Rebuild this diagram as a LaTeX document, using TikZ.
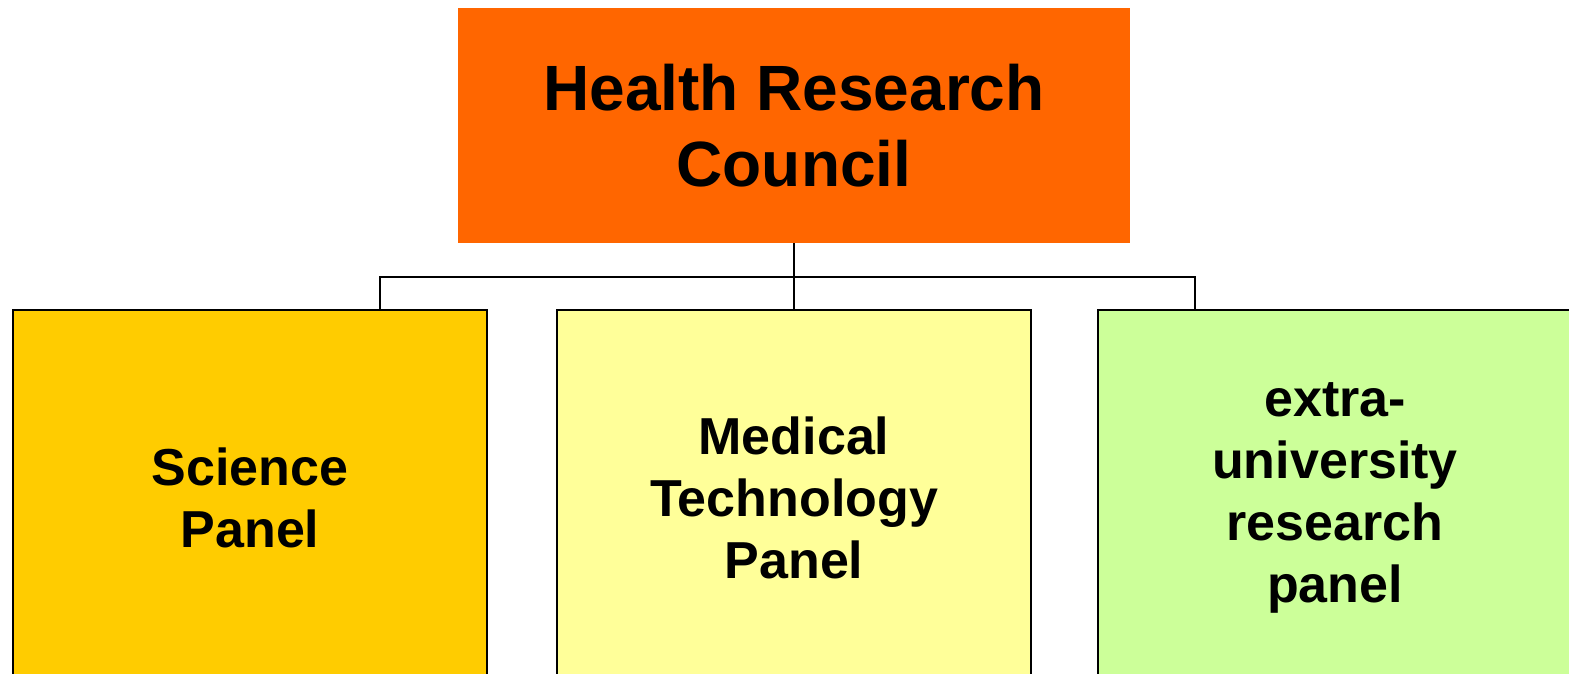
\documentclass[tikz,border=0pt]{standalone}
\usepackage{fontspec}
\setmainfont{Liberation Sans}
\usetikzlibrary{shapes, arrows, positioning}

\definecolor{councilorange}{HTML}{FF6600}
\definecolor{scienceyellow}{HTML}{FFCC00}
\definecolor{medicalyellow}{HTML}{FFFF99}
\definecolor{extragreen}{HTML}{CCFF99}

\begin{document}
\begin{tikzpicture}[node distance=34pt, outer sep=0pt,
    panel/.style={draw, line width=1pt, rectangle, align=center, minimum width=237pt, minimum height=187.5pt, font=\fontsize{26}{31}\selectfont\bfseries}]
        \useasboundingbox (0,0) rectangle (784.5pt,-337pt);

        % Draw the blocks
        \node (council) [rectangle, fill=councilorange, align=center, minimum width=336pt, minimum height=117.5pt, font=\fontsize{32}{38}\selectfont\bfseries] at (397pt,-62.75pt) {Health Research\\Council};
        \node (medical) [panel, fill=medicalyellow, below=33.5pt of council] {Medical\\Technology\\Panel};
        \node (science) [panel, fill=scienceyellow, left=35pt of medical] {Science\\Panel};
        \node (extra)   [panel, fill=extragreen, right=33.5pt of medical] {extra-\\university\\research\\panel};

        % Draw the connecting lines
        \coordinate (hub) at ([yshift=-17pt]council.south);
        \draw [line width=0.8pt] (council) -- (medical);
        \draw [line width=0.8pt] (hub) -| ([xshift=65pt]science.north);
        \draw [line width=0.8pt] (hub) -| ([xshift=-70pt]extra.north);
    \end{tikzpicture}
\end{document}
